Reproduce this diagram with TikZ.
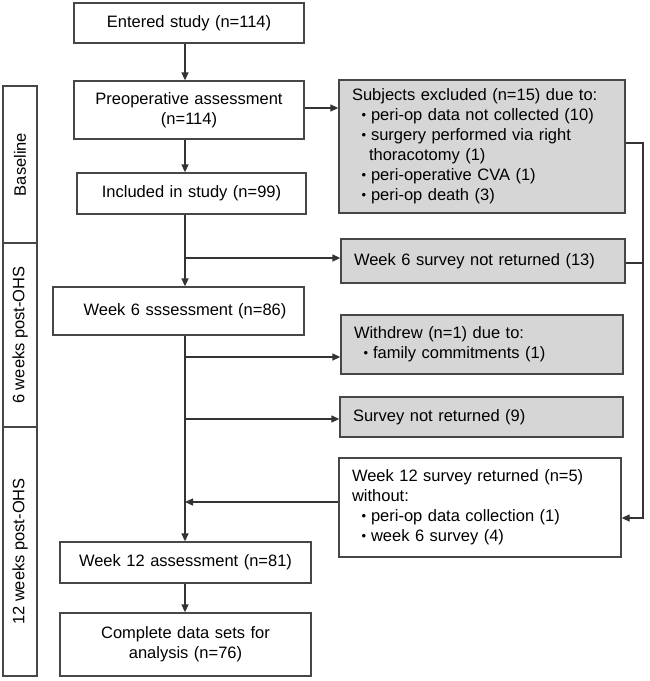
\documentclass[tikz,border=0pt]{standalone}
\usepackage{fontspec}
\setmainfont{Liberation Sans}
\usetikzlibrary{arrows.meta}
\def\bul#1{\hspace*{9.5pt}\makebox[9.5pt][l]{\raisebox{0.8pt}{\fontsize{13}{13}\selectfont\textbullet}}#1}
\tikzset{
	box/.style={draw=black!72, line width=1.3pt, fill=white, inner xsep=13pt, inner ysep=0pt, align=center, font=\fontsize{16.5}{20}\selectfont},
	greybox/.style={box, fill=black!16, align=left},
	sidebox/.style={box, rotate=90, inner sep=0pt},
	link/.style={draw=black!80, line width=1.3pt},
	arr/.style={link, -{Triangle[length=8pt,width=7pt]}}
}

\begin{document}
\begin{tikzpicture}[x=1pt, y=-1pt]
			%%%%% START %%%%%
			
			\useasboundingbox (0, 0) rectangle (650, 681);
			\coordinate (spine) at (185, 0);
			\coordinate (rail) at (643, 0);
			
			\node[sidebox, minimum width=157pt, minimum height=34pt] (baseline) at (20, 164.5) {Baseline};
			\node[sidebox, minimum width=184pt, minimum height=34pt] (sixwk) at (20, 335) {6 weeks post-OHS};
			\node[sidebox, minimum width=249pt, minimum height=34pt] (twelvewk) at (20, 551.5) {12 weeks post-OHS};
			
			\node[box, text width=204pt, minimum height=40pt] (entered) at (189, 23) {Entered study (n=114)};
			\node[box, text width=204pt, minimum height=58pt] (preop) at (189, 110) {Preoperative assessment\\(n=114)};
			\node[box, text width=203pt, minimum height=41pt] (included) at (191.5, 193.5) {Included in study (n=99)};
			\node[box, text width=225pt, minimum height=48pt] (week6) at (178.5, 311) {\hspace*{13pt}Week 6 sssessment (n=86)};
			\node[box, text width=225pt, minimum height=41pt] (week12) at (185.5, 562.5) {Week 12 assessment (n=81)};
			\node[box, text width=225pt, minimum height=63pt] (complete) at (185.5, 644.5) {Complete data sets for\\analysis (n=76)};
			
			\node[greybox, text width=260pt, minimum height=133pt] (excluded) at (482, 146.5) {Subjects excluded (n=15) due to:\\
				\bul{peri-op data not collected (10)}\\
				\bul{surgery performed via right}\\
				\hspace*{17pt}thoracotomy (1)\\
				\bul{peri-operative CVA (1)}\\
				\bul{peri-op death (3)}};
			\node[greybox, text width=258pt, minimum height=44pt] (w6survey) at (483, 261) {Week 6 survey not returned (13)};
			\node[greybox, text width=256pt, minimum height=59pt] (withdrew) at (482, 344.5) {Withdrew (n=1) due to:\\\bul{family commitments (1)}};
			\node[greybox, text width=257pt, minimum height=40pt] (notret) at (481.5, 417) {Survey not returned (9)};
			\node[box, align=left, text width=256pt, minimum height=99pt] (w12survey) at (480, 507.5) {Week 12 survey returned (n=5)\\without:\\
				\bul{peri-op data collection (1)}\\
				\bul{week 6 survey (4)}};
			
			\draw[arr] (entered.south -| spine) -- (preop.north -| spine);
			\draw[arr] (preop.south -| spine) -- (included.north -| spine);
			\draw[arr] ([yshift=2pt]preop.east) -- ([yshift=2pt]preop.east -| excluded.west);
			\draw[arr] ([yshift=3.5pt]excluded.east) -- ([yshift=3.5pt]excluded.east -| rail) -- ([yshift=-10.5pt]w12survey.east -| rail) -- ([yshift=-10.5pt]w12survey.east);
			\draw[link] ([yshift=-2pt]w6survey.east) -- ([yshift=-2pt]w6survey.east -| rail);
			
			\draw[arr] (included.south -| spine) -- (week6.north -| spine);
			\draw[arr] ([yshift=3pt]w6survey.west -| spine) -- ([yshift=3pt]w6survey.west);
			\draw[arr] (week6.south -| spine) -- (week12.north -| spine);
			\draw[arr] ([yshift=-12.5pt]withdrew.west -| spine) -- ([yshift=-12.5pt]withdrew.west);
			\draw[arr] ([yshift=-2pt]notret.west -| spine) -- ([yshift=-2pt]notret.west);
			\draw[arr] ([yshift=5.5pt]w12survey.west) -- ([yshift=5.5pt]w12survey.west -| spine);
			\draw[arr] (week12.south -| spine) -- (complete.north -| spine);
			
			%%%%% END %%%%%
		\end{tikzpicture}
\end{document}
